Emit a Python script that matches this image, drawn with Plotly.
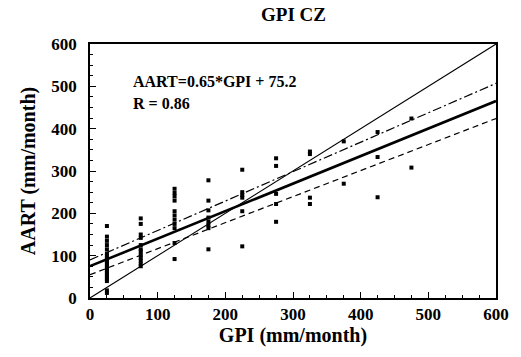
import plotly.graph_objects as go

# ---- data ----
gpi_classes = [25, 75, 125, 175, 225, 275, 325, 375, 425, 475]
aart_values = [
    [170, 145, 135, 125, 115, 105, 100, 95, 90, 85, 80, 75, 70, 65, 60, 55, 50, 45, 40, 18, 12],
    [188, 175, 150, 142, 125, 115, 110, 102, 95, 88, 80, 75],
    [258, 248, 240, 230, 205, 195, 185, 175, 165, 130, 92],
    [278, 230, 207, 190, 180, 172, 165, 115],
    [303, 250, 243, 237, 205, 122],
    [330, 312, 246, 222, 180],
    [346, 340, 237, 222],
    [370, 270],
    [392, 333, 238],
    [424, 308],
]
# lines: (slope, intercept)
line_names = ["1:1", "regression", "upper", "lower"]
line_slopes = [1.0, 0.65, 0.695, 0.615]
line_intercepts = [0.0, 75.2, 90.0, 55.0]
line_x = [0, 600]
x_ticks = [0, 100, 200, 300, 400, 500, 600]
y_ticks = [0, 100, 200, 300, 400, 500, 600]

xs, ys = [], []
for gx, vals in zip(gpi_classes, aart_values):
    for v in vals:
        xs.append(gx)
        ys.append(v)

FONT = "Liberation Serif"
fig = go.Figure()
fig.add_trace(go.Scatter(x=xs, y=ys, mode="markers",
                         marker=dict(symbol="square", size=4, color="black"),
                         showlegend=False))
styles = [dict(width=1.1, dash="solid"), dict(width=2.6, dash="solid"),
          dict(width=1.2, dash="9px,3px,2px,3px"), dict(width=1.2, dash="6px,4px")]
for name, m, b, st in zip(line_names, line_slopes, line_intercepts, styles):
    fig.add_trace(go.Scatter(x=line_x, y=[m * x + b for x in line_x], mode="lines",
                             line=dict(color="black", **st), name=name, showlegend=False))

axis_common = dict(showgrid=False, zeroline=False, showline=True, linecolor="black",
                   linewidth=1.5, mirror=True, ticks="inside", ticklen=6, tickcolor="black",
                   tickfont=dict(family=FONT, size=17, color="black", weight="bold"),
                   minor=dict(ticks="inside", ticklen=3, dtick=25, tickcolor="black"))
fig.update_xaxes(range=[0, 600], tickvals=x_ticks, **axis_common,
                 title=dict(text="GPI (mm/month)", standoff=4,
                            font=dict(family=FONT, size=20, color="black", weight="bold")))
fig.update_yaxes(range=[0, 600], tickvals=y_ticks, ticklabelstandoff=8, **axis_common,
                 title=dict(text="AART (mm/month)", standoff=10,
                            font=dict(family=FONT, size=20, color="black", weight="bold")))

fig.add_annotation(x=0.5, xref="paper", y=1, yref="paper", yshift=30, yanchor="middle",
                   text="GPI CZ", showarrow=False,
                   font=dict(family=FONT, size=19, color="black", weight="bold"))
fig.add_annotation(x=60, y=511, xref="x", yref="y", xanchor="left", yanchor="middle",
                   text="AART=0.65*GPI + 75.2", showarrow=False,
                   font=dict(family=FONT, size=16, color="black", weight="bold"))
fig.add_annotation(x=60, y=460, xref="x", yref="y", xanchor="left", yanchor="middle",
                   text="R = 0.86", showarrow=False,
                   font=dict(family=FONT, size=16, color="black", weight="bold"))

fig.update_layout(width=521, height=357, margin=dict(l=90, r=19, t=44, b=59),
                  plot_bgcolor="white", paper_bgcolor="white")
fig.write_html("out.html")
